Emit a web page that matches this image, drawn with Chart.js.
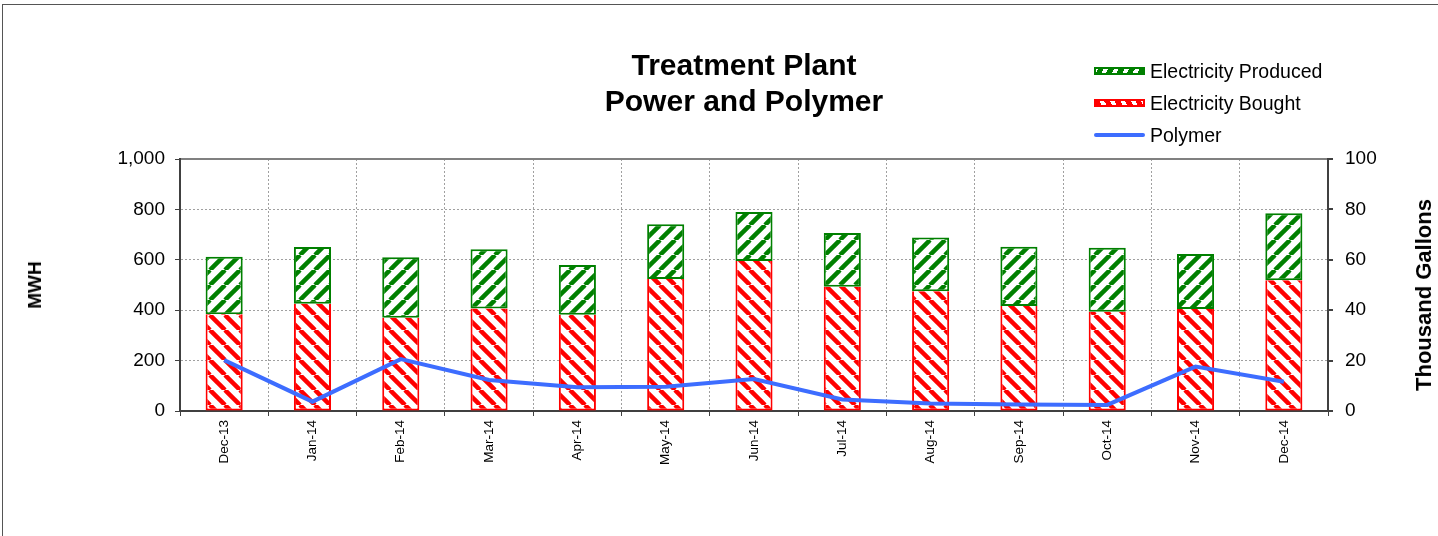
<!DOCTYPE html>
<html>
<head>
<meta charset="utf-8">
<script src="https://cdn.jsdelivr.net/npm/chart.js@4/dist/chart.umd.min.js"></script>
<style>
  body { margin: 0; background: #fff; font-family: "Liberation Sans", Arial, sans-serif; }
  #wrap { position: relative; width: 1438px; height: 536px; overflow: hidden; }
  #frame { position: absolute; left: 2px; top: 4px; right: -10px; bottom: -10px;
           border-top: 1px solid #555; border-left: 1px solid #555; }
  canvas { position: absolute; left: 0; top: 0; }
  .title { position: absolute; left: 544px; top: 47px; width: 400px; text-align: center;
           font-weight: bold; font-size: 30px; line-height: 36px; color: #000; }
  .axis-title { position: absolute; font-weight: bold; color: #000;
                white-space: nowrap; transform: translate(-50%, -50%) rotate(-90deg); }
  .legend { position: absolute; left: 1094px; top: 55px; font-size: 19.5px; color: #000; }
  .legend .row { display: flex; align-items: center; height: 32px; }
  .legend .sw { width: 47px; height: 4px; margin-right: 5px; box-sizing: content-box; }
  .sw.produced { border: 2px solid #008000;
    background: repeating-linear-gradient(-60deg, #008000 0 5px, #fff 5px 9px); }
  .sw.bought { border: 2px solid #ff0000;
    background: repeating-linear-gradient(60deg, #ff0000 0 5px, #fff 5px 9px); }
  .sw.polymer { height: 4px; border: 0; background: #3d6dff; border-radius: 2px; width: 51px; }
</style>
</head>
<body>
<div id="wrap">
  <div id="frame"></div>
  <canvas id="chart" width="1438" height="536"></canvas>
  <div class="title">Treatment Plant<br>Power and Polymer</div>
  <div class="axis-title" style="left:35px; top:285px; font-size:19px;">MWH</div>
  <div class="axis-title" style="left:1424px; top:295px; font-size:22px;">Thousand Gallons</div>
  <div class="legend">
    <div class="row"><span class="sw produced"></span>Electricity Produced</div>
    <div class="row"><span class="sw bought"></span>Electricity Bought</div>
    <div class="row"><span class="sw polymer"></span>Polymer</div>
  </div>
</div>
<script>
// values
const months = ['Dec-13', 'Jan-14', 'Feb-14', 'Mar-14', 'Apr-14', 'May-14', 'Jun-14',
                'Jul-14', 'Aug-14', 'Sep-14', 'Oct-14', 'Nov-14', 'Dec-14'];
const bought   = [384, 426, 370, 407, 382, 524, 595, 493, 475, 417, 394, 405, 519];
const produced = [228, 225, 240, 235, 197, 217, 195, 213, 213, 235, 254, 218, 266];
const polymer  = [20.2, 3.7, 20.6, 12.3, 9.4, 9.6, 12.7, 4.6, 3.0, 2.6, 2.4, 17.6, 11.6];

const GRID = '#a0a0a0';
const AXIS = '#404040';
const FONT = '"Liberation Sans", Arial, sans-serif';

// diagonal hatch, dir 1 = "\" and -1 = "/"
function hatch(color, dir) {
    const s = 15;
    const c = document.createElement('canvas');
    c.width = s; c.height = s;
    const g = c.getContext('2d');
    g.fillStyle = '#fff';
    g.fillRect(0, 0, s, s);
    g.strokeStyle = color;
    g.lineWidth = 4.5;
    for (let k = -1; k <= 1; k++) {
        g.beginPath();
        if (dir > 0) { g.moveTo(k * s, 0); g.lineTo(k * s + s, s); }
        else { g.moveTo(k * s, s); g.lineTo(k * s + s, 0); }
        g.stroke();
    }
    return g.createPattern(c, 'repeat');
}

const ctx = document.getElementById('chart').getContext('2d');

// stacking follows "order", so bought (order 1) sits under produced (order 2)
new Chart(ctx, {
    type: 'bar',
    data: {
        labels: months,
        datasets: [
            {
                type: 'line',
                label: 'Polymer',
                data: polymer,
                yAxisID: 'y2',
                borderColor: '#3d6dff',
                borderWidth: 4,
                pointRadius: 0,
                tension: 0,
                order: 0,
            },
            {
                label: 'Electricity Bought',
                data: bought,
                backgroundColor: hatch('#ff0000', 1),
                borderColor: '#ff0000',
                borderWidth: { top: 0, left: 2, right: 2, bottom: 2 },
                borderSkipped: false,
                stack: 'mwh',
                order: 1,
            },
            {
                label: 'Electricity Produced',
                data: produced,
                backgroundColor: hatch('#008000', -1),
                borderColor: '#008000',
                borderWidth: 2,
                borderSkipped: false,
                stack: 'mwh',
                order: 2,
            },
        ],
    },
    options: {
        responsive: false,
        animation: false,
        layout: { padding: { top: 159, left: 0, right: 0, bottom: 0 } },
        datasets: { bar: { categoryPercentage: 1, barPercentage: 0.42 } },
        plugins: { legend: { display: false }, tooltip: { enabled: false }, title: { display: false } },
        scales: {
            x: {
                stacked: true,
                afterFit: (s) => { s.height = 125; },
                grid: { offset: true, color: GRID, tickColor: AXIS, tickLength: 5, lineWidth: 1 },
                border: { color: AXIS, width: 2, dash: [2, 2] },
                ticks: {
                    autoSkip: false, minRotation: 90, maxRotation: 90, padding: 4,
                    color: '#000', font: { family: FONT, size: 13.5 },
                },
            },
            y: {
                stacked: true,
                position: 'left',
                min: 0, max: 1000,
                afterFit: (s) => { s.width = 180; },
                grid: {
                    color: (c) => (c.tick && c.tick.value % 200 === 0 && c.tick.value > 0 && c.tick.value < 1000) ? GRID : 'rgba(0,0,0,0)',
                    tickColor: AXIS, tickLength: 5, lineWidth: 1,
                },
                border: { color: AXIS, width: 2, dash: [2, 2] },
                ticks: {
                    stepSize: 100, padding: 10, color: '#000',
                    font: { family: FONT, size: 19 },
                    callback: (v) => v % 200 === 0 ? v.toLocaleString('en-US') : '',
                },
            },
            y2: {
                position: 'right',
                min: 0, max: 100,
                afterFit: (s) => { s.width = 110; },
                grid: {
                    color: (c) => (c.tick && c.tick.value === 100) ? '#808080' : 'rgba(0,0,0,0)',
                    lineWidth: 2, tickColor: AXIS, tickLength: 5,
                },
                border: { color: AXIS, width: 2 },
                ticks: {
                    stepSize: 20, padding: 12, color: '#000',
                    font: { family: FONT, size: 19 },
                },
            },
        },
    },
});
</script>
</body>
</html>
